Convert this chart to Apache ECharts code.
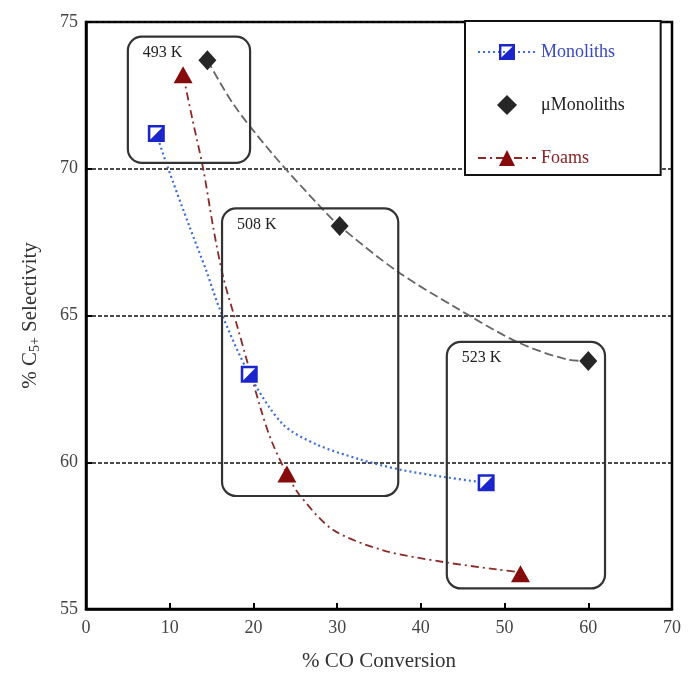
<!DOCTYPE html>
<html>
<head>
<meta charset="utf-8">
<script src="https://cdn.jsdelivr.net/npm/echarts@6/dist/echarts.min.js"></script>
<style>html,body{margin:0;padding:0;background:#fff}#c{width:691px;height:677px}</style>
</head>
<body>
<div id="c"></div>
<script>
// ---- data ----
var seriesNames = ['Monoliths', 'μMonoliths', 'Foams'];

var monoX = [8.4, 19.5, 47.8];
var monoY = [71.2, 63.0, 59.3];
var microX = [14.5, 30.3, 60.0];
var microY = [73.7, 68.05, 63.45];
var foamX = [11.6, 24.0, 51.9];
var foamY = [73.2, 59.6, 56.2];

// fitted trend curves
var monoFitX = [8.4, 9.7, 12.4, 14.4, 16.0, 19.5, 23.5, 27.6, 32.7, 37.5, 42.7, 47.8];
var monoFitY = [71.2, 70.1, 68.0, 66.5, 65.2, 63.0, 61.3, 60.6, 60.1, 59.75, 59.5, 59.3];
var microFitX = [14.5, 17.6, 22.3, 28.0, 30.3, 37.2, 44.0, 51.5, 57.5, 60.0];
var microFitY = [73.7, 72.2, 70.5, 68.7, 68.05, 66.5, 65.3, 64.1, 63.5, 63.45];
var foamFitX = [11.6, 12.7, 14.0, 15.2, 16.4, 18.1, 21.0, 22.2, 24.0, 25.6, 29.5, 35.5, 42.7, 49.1, 51.9];
var foamFitY = [73.2, 71.7, 70.0, 68.0, 66.3, 64.6, 61.7, 60.7, 59.6, 58.85, 57.7, 57.0, 56.6, 56.35, 56.25];

// temperature annotation boxes (data units)
var boxLabels = ['493 K', '508 K', '523 K'];
var boxXmin = [5.0, 16.25, 43.1];
var boxXmax = [19.6, 37.3, 62.0];
var boxYmin = [70.2, 58.85, 55.7];
var boxYmax = [74.5, 68.65, 64.1];

var xTicks = [0, 10, 20, 30, 40, 50, 60, 70];
var yTicks = [55, 60, 65, 70, 75];

// ---- helpers ----
function zip(a, b) { return a.map(function (v, i) { return [v, b[i]]; }); }

var BLUE = '#1a26cc', BLUE_LINE = '#3c6ed6', DARK = '#262626', RED = '#860c0c';
var FONT = '"Liberation Serif", "Times New Roman", serif';
var halfSquare = 'path://M0,0 L16,0 L16,16 L0,16 Z M2.4,2.4 L2.4,13.6 L13.6,13.6 L13.6,2.4 Z M13.6,2.4 L13.6,13.6 L2.4,13.6 Z';

var chart = echarts.init(document.getElementById('c'), null, { renderer: 'canvas' });

var option = {
  animation: false,
  backgroundColor: '#fff',
  grid: { left: 86, right: 19, top: 22, bottom: 67, show: true, borderColor: '#000', borderWidth: 2.5, backgroundColor: 'transparent' },
  xAxis: {
    type: 'value', min: xTicks[0], max: xTicks[xTicks.length - 1], interval: 10,
    name: '% CO Conversion', nameLocation: 'middle', nameGap: 42,
    nameTextStyle: { fontFamily: FONT, fontSize: 21, color: '#333' },
    axisLine: { show: true, lineStyle: { color: '#000', width: 2.5 } },
    axisTick: { show: true, inside: true, length: 6, lineStyle: { color: '#000', width: 2 } },
    axisLabel: { fontFamily: FONT, fontSize: 18, color: '#444', margin: 10 },
    splitLine: { show: false }
  },
  yAxis: {
    type: 'value', min: yTicks[0], max: yTicks[yTicks.length - 1], interval: 5,
    name: '% C{sub|5+} Selectivity', nameLocation: 'middle', nameGap: 44, nameRotate: 90,
    nameTextStyle: { fontFamily: FONT, fontSize: 21, color: '#333',
      rich: { sub: { fontFamily: FONT, fontSize: 14, color: '#333', verticalAlign: 'bottom', padding: [10, 0, 0, 0] } } },
    axisLine: { show: true, lineStyle: { color: '#000', width: 2.5 } },
    axisTick: { show: true, inside: true, length: 6, lineStyle: { color: '#000', width: 2 } },
    axisLabel: { fontFamily: FONT, fontSize: 18, color: '#444', margin: 8 },
    splitLine: { show: true, lineStyle: { color: '#111', width: 1.5, type: [4, 2] } }
  },
  legend: {
    orient: 'vertical', left: 465, top: 21,
    padding: [22, 36, 8, 12],
    itemWidth: 58, itemHeight: 20, itemGap: 34,
    symbolKeepAspect: true,
    borderColor: '#111', borderWidth: 2, backgroundColor: '#fff',
    textStyle: { fontFamily: FONT, fontSize: 18 },
    data: [
      { name: 'Monoliths', textStyle: { color: '#3848c6' } },
      { name: 'μMonoliths', icon: 'path://M10,0 L20,10 L10,20 L0,10 Z', textStyle: { color: '#222' }, itemStyle: { color: DARK } },
      { name: 'Foams', textStyle: { color: '#8a2222' } }
    ]
  },
  series: [
    { name: 'Monoliths', type: 'line', data: zip(monoFitX, monoFitY), smooth: 0.3, showSymbol: false,
      symbol: halfSquare, symbolSize: 16, itemStyle: { color: BLUE, opacity: 1 },
      lineStyle: { color: BLUE_LINE, width: 2.2, type: [2, 3] }, z: 2 },
    { name: 'μMonoliths', type: 'line', data: zip(microFitX, microFitY), smooth: 0.3, showSymbol: false,
      symbol: 'diamond', symbolSize: 16, itemStyle: { color: DARK, opacity: 1 },
      lineStyle: { color: '#666', width: 1.8, type: [9, 4] }, z: 2 },
    { name: 'Foams', type: 'line', data: zip(foamFitX, foamFitY), smooth: 0.3, showSymbol: false,
      symbol: 'triangle', symbolSize: 16, itemStyle: { color: RED, opacity: 1 },
      lineStyle: { color: '#8c2a2a', width: 1.8, type: [8, 4, 2, 4] }, z: 2 },
    { name: 'Monoliths', type: 'scatter', data: zip(monoX, monoY), symbol: 'rect', symbolSize: 16,
      itemStyle: { color: '#fff', opacity: 1 }, z: 3 },
    { name: 'Monoliths', type: 'scatter', data: zip(monoX, monoY), symbol: halfSquare, symbolSize: 17,
      itemStyle: { color: BLUE, opacity: 1 }, z: 4 },
    { name: 'μMonoliths', type: 'scatter', data: zip(microX, microY), symbol: 'diamond', symbolSize: [18, 20],
      itemStyle: { color: DARK, opacity: 1 }, z: 4 },
    { name: 'Foams', type: 'scatter', data: zip(foamX, foamY), symbol: 'triangle', symbolSize: [19, 17],
      itemStyle: { color: RED, opacity: 1 }, z: 4 }
  ]
};
chart.setOption(option);

function drawBoxes() {
  var g = [];
  boxLabels.forEach(function (lab, i) {
    var p0 = chart.convertToPixel({ gridIndex: 0 }, [boxXmin[i], boxYmax[i]]);
    var p1 = chart.convertToPixel({ gridIndex: 0 }, [boxXmax[i], boxYmin[i]]);
    g.push({ type: 'rect', z: 10, silent: true,
      shape: { x: p0[0], y: p0[1], width: p1[0] - p0[0], height: p1[1] - p0[1], r: 14 },
      style: { fill: null, stroke: '#333', lineWidth: 2.2 } });
    g.push({ type: 'text', z: 11, silent: true, x: p0[0] + 15, y: p0[1] + 16,
      style: { text: lab, font: '16px ' + FONT, fill: '#222', verticalAlign: 'middle', textAlign: 'left' } });
  });
  chart.setOption({ graphic: g });
}
drawBoxes();
</script>
</body>
</html>
